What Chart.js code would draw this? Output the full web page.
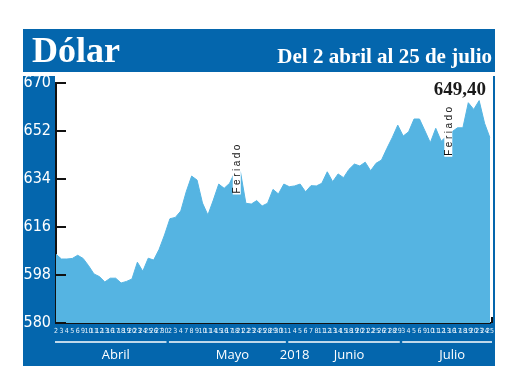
<!DOCTYPE html>
<html>
<head>
<meta charset="utf-8">
<script src="https://cdn.jsdelivr.net/npm/chart.js@4.4.0/dist/chart.umd.min.js"></script>
<style>
  html, body { margin: 0; padding: 0; background: #fff; }
  canvas { display: block; }
</style>
</head>
<body>
<canvas id="c" width="520" height="390"></canvas>
<script>
// trading days, 2 abril - 25 julio 2018
const days = [
  '2','3','4','5','6','9','10','11','12','13','16','17','18','19','20','23','24','25','26','27','30',
  '2','3','4','7','8','9','10','11','14','15','16','17','18','21','22','23','24','25','28','29','30','31',
  '1','4','5','6','7','8','11','12','13','14','15','18','19','20','21','22','25','26','27','28','29',
  '3','4','5','6','9','10','11','12','13','16','17','18','19','20','23','24','25'
];
const dolar = [
  605.8, 604.0, 604.0, 604.2, 605.4, 604.2, 601.5, 598.4, 597.4, 595.4, 596.8, 596.8, 595.0, 595.6, 596.5, 602.8, 599.4, 604.3, 603.6, 607.6, 613.0,
  619.1, 619.6, 622.0, 629.2, 635.1, 633.6, 625.0, 620.5, 626.1, 632.1, 630.5, 632.4, 636.7, 636.7, 624.9, 624.6, 625.9, 623.9, 624.9, 630.1, 628.4, 632.1,
  631.1, 631.4, 632.1, 629.2, 631.5, 631.4, 632.4, 636.7, 633.0, 635.9, 634.5, 637.6, 639.6, 638.9, 640.3, 637.1, 639.9, 641.1, 645.5, 649.6, 654.2,
  650.1, 651.7, 656.5, 656.5, 652.1, 647.6, 653.0, 648.2, 650.0, 651.7, 653.2, 653.2, 662.6, 660.1, 663.4, 654.9, 649.4
];
const yTicks = [580, 598, 616, 634, 652, 670];
const months = ['Abril', 'Mayo', 'Junio', 'Julio'];
const monthStart = [0, 21, 43, 64];
const monthEnd = [20, 42, 63, 80];
const feriados = [33, 72]; // label drawn after these points
const lastLabel = '649,40';

const BLUE = '#0466ad';
const FILL = '#55b4e2';
const NARROW = "'Liberation Sans Narrow', 'DejaVu Sans Condensed', sans-serif";

const frame = {
  id: 'frame',
  beforeDraw(chart) {
    const { ctx, chartArea: a } = chart;
    ctx.save();
    ctx.fillStyle = '#fff';
    ctx.fillRect(0, 0, chart.width, chart.height);
    ctx.fillStyle = BLUE;
    ctx.fillRect(23, 29, 472, 43);
    ctx.fillRect(23, 76, 472, 290);
    ctx.fillStyle = '#fff';
    ctx.fillRect(a.left - 1, 76, 494 - a.left, a.bottom - 76);
    ctx.restore();
  },
  afterDraw(chart) {
    const { ctx, chartArea: a } = chart;
    const x = chart.scales.x, y = chart.scales.y;
    ctx.save();

    // header
    ctx.fillStyle = '#fff';
    ctx.textBaseline = 'alphabetic';
    ctx.font = "bold 36px 'Liberation Serif', serif";
    ctx.textAlign = 'left';
    ctx.fillText('Dólar', 32, 62);
    ctx.font = "bold 21px 'Liberation Serif', serif";
    ctx.textAlign = 'right';
    ctx.fillText('Del 2 abril al 25 de julio', 492, 63);

    // y ticks inside the plot
    ctx.strokeStyle = '#111';
    ctx.lineWidth = 2;
    yTicks.forEach(v => {
      const py = Math.round(y.getPixelForValue(v));
      ctx.beginPath();
      ctx.moveTo(a.left, py);
      ctx.lineTo(a.left + 10, py);
      ctx.stroke();
    });
    ctx.beginPath();
    ctx.moveTo(a.right + 2, a.bottom);
    ctx.lineTo(a.right + 2, a.bottom - 6);
    ctx.stroke();

    // months
    ctx.strokeStyle = '#fff';
    ctx.lineWidth = 1.5;
    ctx.fillStyle = '#fff';
    ctx.font = "13px 'Open Sans', sans-serif";
    ctx.textAlign = 'center';
    ctx.textBaseline = 'middle';
    months.forEach((m, i) => {
      const x0 = x.getPixelForValue(monthStart[i]) - 1;
      const x1 = x.getPixelForValue(monthEnd[i]) + 2;
      ctx.beginPath();
      ctx.moveTo(x0, 342);
      ctx.lineTo(x1, 342);
      ctx.stroke();
      ctx.fillText(m, (x0 + x1) / 2 + 5, 355);
    });
    ctx.fillText('2018', (x.getPixelForValue(monthEnd[1]) + x.getPixelForValue(monthStart[2])) / 2 + 8, 355);

    // feriado labels
    ctx.font = "10px 'Liberation Sans', sans-serif";
    ctx.letterSpacing = '2.5px';
    feriados.forEach(i => {
      const px = (x.getPixelForValue(i) + x.getPixelForValue(i + 1)) / 2 - 1;
      const py = y.getPixelForValue((dolar[i] + dolar[i + 1]) / 2) - 4;
      ctx.save();
      ctx.translate(px, py);
      ctx.rotate(-Math.PI / 2);
      const w = ctx.measureText('Feriado').width;
      ctx.fillStyle = '#fff';
      ctx.fillRect(-w / 2 - 1, -4, w + 1, 8);
      ctx.fillStyle = '#111';
      ctx.fillText('Feriado', 0, 0.5);
      ctx.restore();
    });
    ctx.letterSpacing = '0px';

    // last value
    ctx.fillStyle = '#1a1a1a';
    ctx.font = "bold 19px 'Liberation Serif', serif";
    ctx.textAlign = 'right';
    ctx.textBaseline = 'alphabetic';
    ctx.fillText(lastLabel, 486, 95);
    ctx.restore();
  }
};

new Chart(document.getElementById('c'), {
  type: 'line',
  data: {
    labels: days,
    datasets: [{
      data: dolar,
      fill: 'start',
      backgroundColor: FILL,
      borderColor: FILL,
      borderWidth: 1,
      pointRadius: 0,
      tension: 0
    }]
  },
  options: {
    responsive: false,
    animation: false,
    devicePixelRatio: 1,
    layout: { padding: { left: 23, right: 30, top: 83, bottom: 23 } },
    plugins: { legend: { display: false }, tooltip: { enabled: false } },
    scales: {
      x: {
        offset: false,
        grid: { display: false, drawTicks: false },
        border: { display: true, color: '#111', width: 2 },
        ticks: {
          autoSkip: false, maxRotation: 0, minRotation: 0, padding: 4,
          color: '#e8f3fb',
          font: { family: NARROW, size: 7 }
        },
        afterFit: s => { s.height = 44; }
      },
      y: {
        min: 580, max: 670,
        grid: { display: false, drawTicks: false },
        border: { display: true, color: '#111', width: 2 },
        afterBuildTicks: s => { s.ticks = yTicks.map(v => ({ value: v })); },
        ticks: {
          padding: 5,
          color: '#fff',
          font: { family: NARROW, size: 16 }
        },
        afterFit: s => { s.width = 33; }
      }
    }
  },
  plugins: [frame]
});
</script>
</body>
</html>
